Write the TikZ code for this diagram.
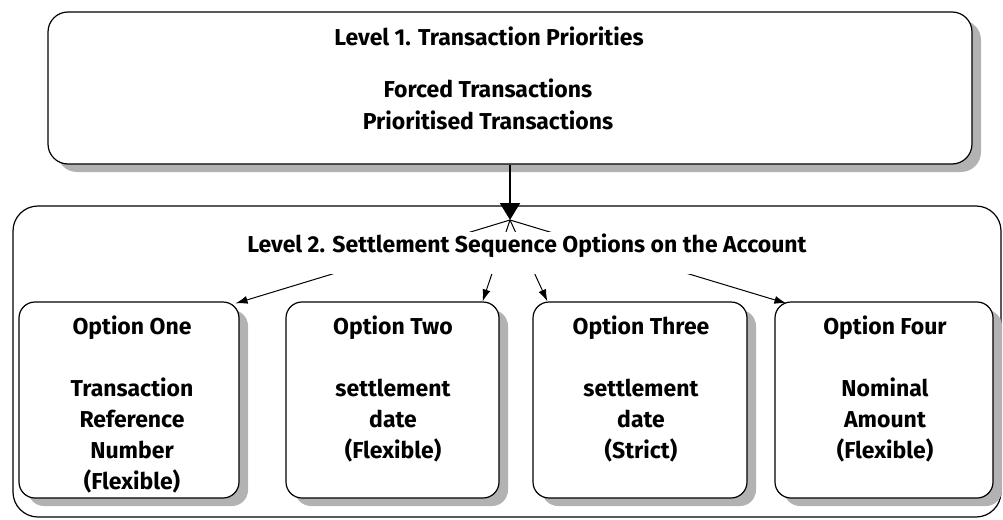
\documentclass[tikz,border=0pt]{standalone}
\usepackage{fontspec}
\setmainfont{Fira Sans}
\usetikzlibrary{shadows,arrows.meta}

\begin{document}
\begin{tikzpicture}[x=1pt,y=-1pt,font=\bfseries\fontsize{23}{31}\selectfont]
\useasboundingbox (0,0) rectangle (1003,519);

\node (L2)[draw,line width=1.2pt,rounded corners=25pt,minimum width=988pt,minimum height=311pt] at (507,361.5) {};

\begin{scope}[every node/.style={draw,fill=white,line width=1.2pt,rounded corners=16pt,
              drop shadow={shadow xshift=9pt,shadow yshift=-8pt,fill=black!30,opacity=1}}]
    \node (L1)[rounded corners=20pt,minimum width=924pt,minimum height=152pt] at (510,88) {};
    \node (O1)[minimum width=220pt,minimum height=196pt] at (129,400) {};
    \node (O2)[minimum width=213pt,minimum height=196pt] at (392.5,400) {};
    \node (O3)[minimum width=214pt,minimum height=196pt] at (640,400) {};
    \node (O4)[minimum width=218pt,minimum height=196pt] at (884,400) {};
\end{scope}

\coordinate (hub) at (510,220);

\draw[line width=2pt,-{Triangle[length=17pt,width=20pt]}] (L1) -- (hub);

\begin{scope}[every edge/.style={draw=black,line width=1pt,-{Latex[length=12pt,width=8pt]}}]
    \path (hub) edge ([xshift=-4pt,yshift=-2pt]O1.north east);
    \path (hub) edge ([xshift=-17pt]O2.north east);
    \path (hub) edge ([xshift=15pt]O3.north west);
    \path (hub) edge ([xshift=12pt,yshift=-2pt]O4.north west);
\end{scope}

\begin{scope}[every node/.style={align=center,inner sep=0pt}]
    \node (L1title) at (489,36) {Level 1. Transaction Priorities};
    \node (L1txt)[font=\bfseries\fontsize{23}{32}\selectfont] at (488,104) {Forced Transactions\\Prioritised Transactions};
    \node (L2title)[fill=white,inner xsep=4pt,text height=20pt,text depth=22pt,anchor=base] at (527,252) {Level 2. Settlement Sequence Options on the Account};
    \node (O1txt)[anchor=north] at (132,316) {Option One\\[31pt]Transaction\\Reference\\Number\\(Flexible)};
    \node (O2txt)[anchor=north] at (393,316) {Option Two\\[31pt]settlement\\date\\(Flexible)};
    \node (O3txt)[anchor=north] at (641,316) {Option Three\\[31pt]settlement\\date\\(Strict)};
    \node (O4txt)[anchor=north] at (885,316) {Option Four\\[31pt]Nominal\\Amount\\(Flexible)};
\end{scope}
\end{tikzpicture}
\end{document}
